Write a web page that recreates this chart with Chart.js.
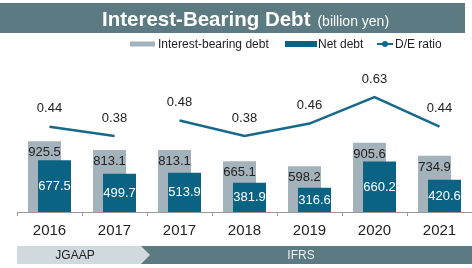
<!DOCTYPE html>
<html>
<head>
<meta charset="utf-8">
<script src="https://cdn.jsdelivr.net/npm/chart.js@4/dist/chart.umd.min.js"></script>
<style>
html,body{margin:0;padding:0;background:#fff;}
#wrap{width:472px;height:268px;position:relative;}
</style>
</head>
<body>
<div id="wrap"><canvas id="c" width="472" height="268"></canvas></div>
<script>
const categories = ['2016', '2017', '2017', '2018', '2019', '2020', '2021'];
const interestBearingDebt = [925.5, 813.1, 813.1, 665.1, 598.2, 905.6, 734.9];
const netDebt = [677.5, 499.7, 513.9, 381.9, 316.6, 660.2, 420.6];
const deRatio = [0.44, 0.38, 0.48, 0.38, 0.46, 0.63, 0.44];
const seriesLabels = ['Interest-bearing debt', 'Net debt', 'D/E ratio'];
const titleMain = 'Interest-Bearing Debt';
const titleUnit = '(billion yen)';
const standards = ['JGAAP', 'IFRS'];

const FONT = '"Liberation Sans", Arial, sans-serif';
const C_GREY = '#a4b2bc';
const C_NET = '#0b6384';
const C_LINE = '#15698a';
const C_BANNER = '#5b7a82';
const C_LIGHT = '#cfd9de';

const overlayPlugin = {
  id: 'overlay',
  beforeDatasetDraw(chart, args) {
    if (args.index === 1) return false;
  },
  afterDatasetDraw(chart, args) {
    if (args.index === 0) {
      chart.getDatasetMeta(1).controller.draw();
    }
  },
  afterDraw(chart) {
    const ctx = chart.ctx;
    ctx.save();
    // Title banner
    ctx.fillStyle = C_BANNER;
    ctx.fillRect(0, 3, 465, 30);
    ctx.fillStyle = '#ffffff';
    ctx.textBaseline = 'alphabetic';
    ctx.textAlign = 'left';
    ctx.font = 'bold 20.5px ' + FONT;
    ctx.fillText(titleMain, 102, 26);
    const tw = ctx.measureText(titleMain).width;
    ctx.font = '14px ' + FONT;
    ctx.fillText(titleUnit, 102 + tw + 7, 26);

    // Legend
    const ds = chart.data.datasets;
    ctx.font = '12px ' + FONT;
    ctx.textBaseline = 'middle';
    ctx.fillStyle = ds[0].backgroundColor;
    ctx.fillRect(130, 41.5, 25, 5);
    ctx.fillStyle = '#222';
    ctx.fillText(ds[0].label, 158, 44.5);
    ctx.fillStyle = ds[1].backgroundColor;
    ctx.fillRect(285, 41, 32, 6);
    ctx.fillStyle = '#222';
    ctx.fillText(ds[1].label, 318, 44.5);
    ctx.strokeStyle = ds[2].borderColor;
    ctx.lineWidth = 2;
    ctx.beginPath(); ctx.moveTo(377, 44); ctx.lineTo(393, 44); ctx.stroke();
    ctx.fillStyle = ds[2].borderColor;
    ctx.beginPath(); ctx.arc(385, 44, 3, 0, Math.PI * 2); ctx.fill();
    ctx.fillStyle = '#222';
    ctx.fillText(ds[2].label, 395, 44.5);

    // Data labels
    const mG = chart.getDatasetMeta(0), mN = chart.getDatasetMeta(1), mL = chart.getDatasetMeta(2);
    ctx.font = '13px ' + FONT;
    ctx.textAlign = 'center';
    mG.data.forEach((el, i) => {
      ctx.fillStyle = '#222';
      ctx.fillText(interestBearingDebt[i].toFixed(1), el.x, el.y + 11.5);
    });
    mN.data.forEach((el, i) => {
      ctx.fillStyle = '#ffffff';
      ctx.fillText(netDebt[i].toFixed(1), el.x, (el.y + el.base) / 2 + 0.5);
    });
    mL.data.forEach((el, i) => {
      ctx.fillStyle = '#222';
      ctx.fillText(deRatio[i].toFixed(2), el.x, el.y - 18);
    });

    // Accounting standard band
    const right = chart.chartArea.right;
    const left = chart.chartArea.left;
    ctx.fillStyle = C_BANNER;
    ctx.fillRect(131, 246, right - 131, 18);
    ctx.fillStyle = C_LIGHT;
    ctx.beginPath();
    ctx.moveTo(left, 246); ctx.lineTo(141, 246); ctx.lineTo(150, 255);
    ctx.lineTo(141, 264); ctx.lineTo(left, 264); ctx.closePath(); ctx.fill();
    ctx.font = '12px ' + FONT;
    ctx.textBaseline = 'middle';
    ctx.fillStyle = '#222';
    ctx.fillText(standards[0], 75, 255.5);
    ctx.fillStyle = '#eef2f4';
    ctx.fillText(standards[1], 301, 255.5);
    ctx.restore();
  }
};

new Chart(document.getElementById('c'), {
  type: 'bar',
  data: {
    labels: categories,
    datasets: [
      { label: seriesLabels[0], data: interestBearingDebt, backgroundColor: C_GREY, yAxisID: 'y', order: 1,
        categoryPercentage: 20 / 65, barPercentage: 3.3 },
      { label: seriesLabels[1], data: netDebt, backgroundColor: C_NET, yAxisID: 'y', order: 2,
        categoryPercentage: 20 / 65, barPercentage: 3.3 },
      { type: 'line', label: seriesLabels[2], data: deRatio, borderColor: C_LINE, borderWidth: 2.5,
        pointRadius: 0, yAxisID: 'y2', order: 0, tension: 0,
        segment: { borderColor: (c) => c.p0DataIndex === 1 ? 'rgba(0,0,0,0)' : C_LINE } }
    ]
  },
  options: {
    responsive: false,
    animation: false,
    devicePixelRatio: 1,
    layout: { padding: { left: 17, right: 0, top: 56, bottom: 22 } },
    plugins: { legend: { display: false }, tooltip: { enabled: false }, title: { display: false } },
    scales: {
      x: {
        grid: { drawOnChartArea: false, drawTicks: true, tickLength: 4, color: '#999', offset: true },
        border: { color: '#999', width: 1 },
        ticks: { color: '#222', font: { size: 15, family: FONT }, padding: 6 }
      },
      y: { display: false, min: 0, max: 2042 },
      y2: { display: false, min: -0.107, max: 0.893 }
    }
  },
  plugins: [overlayPlugin]
});
</script>
</body>
</html>
